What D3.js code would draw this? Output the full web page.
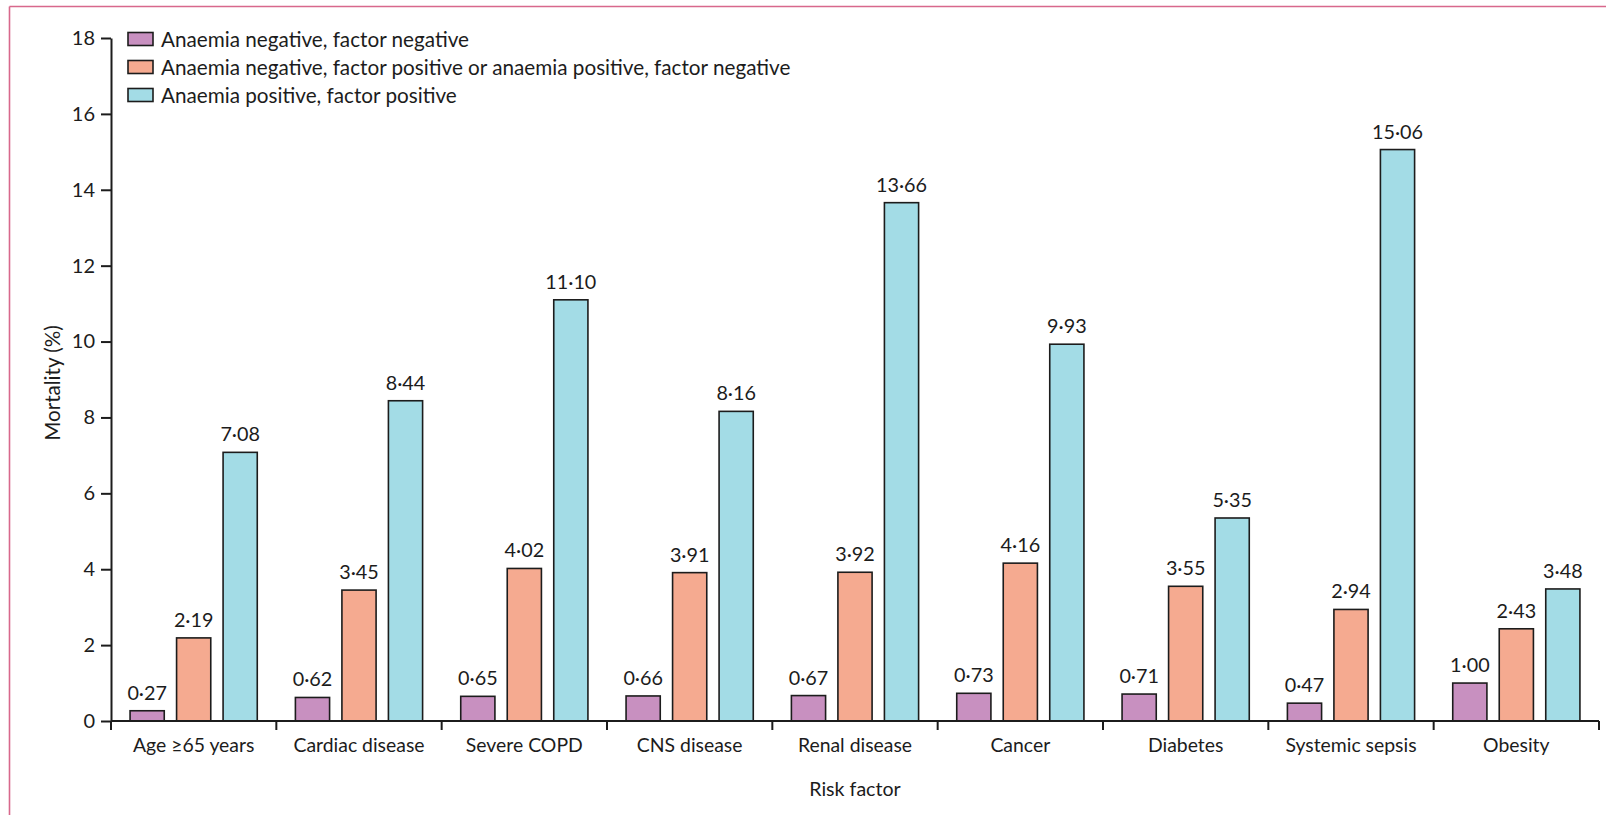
<!DOCTYPE html>
<html>
<head>
<meta charset="utf-8">
<script src="https://cdn.jsdelivr.net/npm/d3@7"></script>
<style>
  html, body { margin: 0; padding: 0; background: #fff; }
  svg { display: block; font-family: Lato, "Open Sans", sans-serif; }
</style>
</head>
<body>
<svg id="chart" width="1606" height="815"></svg>
<script>
// Mortality by risk factor, split by anaemia / factor status
const categories = ["Age \u226565 years", "Cardiac disease", "Severe COPD", "CNS disease",
  "Renal disease", "Cancer", "Diabetes", "Systemic sepsis", "Obesity"];
const seriesNames = [
  "Anaemia negative, factor negative",
  "Anaemia negative, factor positive or anaemia positive, factor negative",
  "Anaemia positive, factor positive"
];
const bothNegative = [0.27, 0.62, 0.65, 0.66, 0.67, 0.73, 0.71, 0.47, 1.00];
const onePositive  = [2.19, 3.45, 4.02, 3.91, 3.92, 4.16, 3.55, 2.94, 2.43];
const bothPositive = [7.08, 8.44, 11.10, 8.16, 13.66, 9.93, 5.35, 15.06, 3.48];
const yTicks = [0, 2, 4, 6, 8, 10, 12, 14, 16, 18];
const colors = ["#c890c0", "#f5aa90", "#a3dce6"];

const series = [bothNegative, onePositive, bothPositive];
const svg = d3.select("#chart");
const ink = "#1c1c1c";

// frame lines
svg.append("line").attr("x1", 9.5).attr("x2", 1606).attr("y1", 6.5).attr("y2", 6.5)
  .attr("stroke", "#d8688c").attr("stroke-width", 1.6);
svg.append("line").attr("x1", 9.5).attr("x2", 9.5).attr("y1", 6.5).attr("y2", 815)
  .attr("stroke", "#d8688c").attr("stroke-width", 1.6);

const plotLeft = 111, plotRight = 1599, plotTop = 38, plotBottom = 721;

const x0 = d3.scaleBand().domain(categories).range([plotLeft, plotRight]).paddingInner(0).paddingOuter(0);
const x1 = d3.scaleBand().domain([0, 1, 2]).range([0, x0.bandwidth()]).paddingInner(0.265).paddingOuter(0.41);
const y = d3.scaleLinear().domain([0, 18]).range([plotBottom, plotTop]);

const fmt = v => d3.format(".2f")(v).replace(".", "\u00b7");

// bars
const groups = svg.append("g").selectAll("g").data(categories).join("g")
  .attr("transform", d => `translate(${x0(d)},0)`);

groups.each(function(cat, ci) {
  const g = d3.select(this);
  series.forEach((vals, si) => {
    const v = vals[ci];
    g.append("rect")
      .attr("x", x1(si)).attr("width", x1.bandwidth())
      .attr("y", y(v)).attr("height", y(0) - y(v))
      .attr("fill", colors[si]).attr("stroke", ink).attr("stroke-width", 1.6);
    g.append("text")
      .attr("x", x1(si) + x1.bandwidth() / 2).attr("y", y(v) - 11)
      .attr("text-anchor", "middle").attr("font-size", 19.8).attr("fill", ink)
      .text(fmt(v));
  });
});

// y axis
const yAxis = svg.append("g").attr("transform", `translate(${plotLeft},0)`)
  .call(d3.axisLeft(y).tickValues(yTicks).tickFormat(d3.format("d")).tickSize(10).tickSizeOuter(0).tickPadding(6));
yAxis.select(".domain").attr("stroke", ink).attr("stroke-width", 2);
yAxis.selectAll(".tick line").attr("stroke", ink).attr("stroke-width", 2);
yAxis.selectAll(".tick text").attr("font-size", 20).attr("fill", ink).attr("font-family", "Lato, sans-serif");

// x axis: baseline, boundary ticks, centred labels
const xg = svg.append("g");
xg.append("line").attr("x1", plotLeft).attr("x2", plotRight).attr("y1", plotBottom).attr("y2", plotBottom)
  .attr("stroke", ink).attr("stroke-width", 2);
const bounds = categories.map(c => x0(c)).concat([x0.range()[1]]);
xg.selectAll("line.tk").data(bounds).join("line").attr("class", "tk")
  .attr("x1", d => d).attr("x2", d => d).attr("y1", plotBottom).attr("y2", plotBottom + 9)
  .attr("stroke", ink).attr("stroke-width", 2);
xg.selectAll("text").data(categories).join("text")
  .attr("x", d => x0(d) + x0.bandwidth() / 2).attr("y", 752)
  .attr("text-anchor", "middle").attr("font-size", 19.4).attr("fill", ink)
  .text(d => d);

// axis titles
svg.append("text").attr("x", (plotLeft + plotRight) / 2).attr("y", 796)
  .attr("text-anchor", "middle").attr("font-size", 19.6).attr("fill", ink).text("Risk factor");
svg.append("text").attr("transform", "translate(60,383) rotate(-90)")
  .attr("text-anchor", "middle").attr("font-size", 20.6).attr("fill", ink).text("Mortality (%)");

// legend
const legend = svg.append("g");
seriesNames.forEach((name, i) => {
  const cy = 39 + i * 28;
  legend.append("rect").attr("x", 128).attr("y", cy - 6.5).attr("width", 25).attr("height", 13)
    .attr("fill", colors[i]).attr("stroke", ink).attr("stroke-width", 1.6);
  legend.append("text").attr("x", 161).attr("y", cy + 7.5).attr("font-size", 20.7).attr("fill", ink).text(name);
});
</script>
</body>
</html>
